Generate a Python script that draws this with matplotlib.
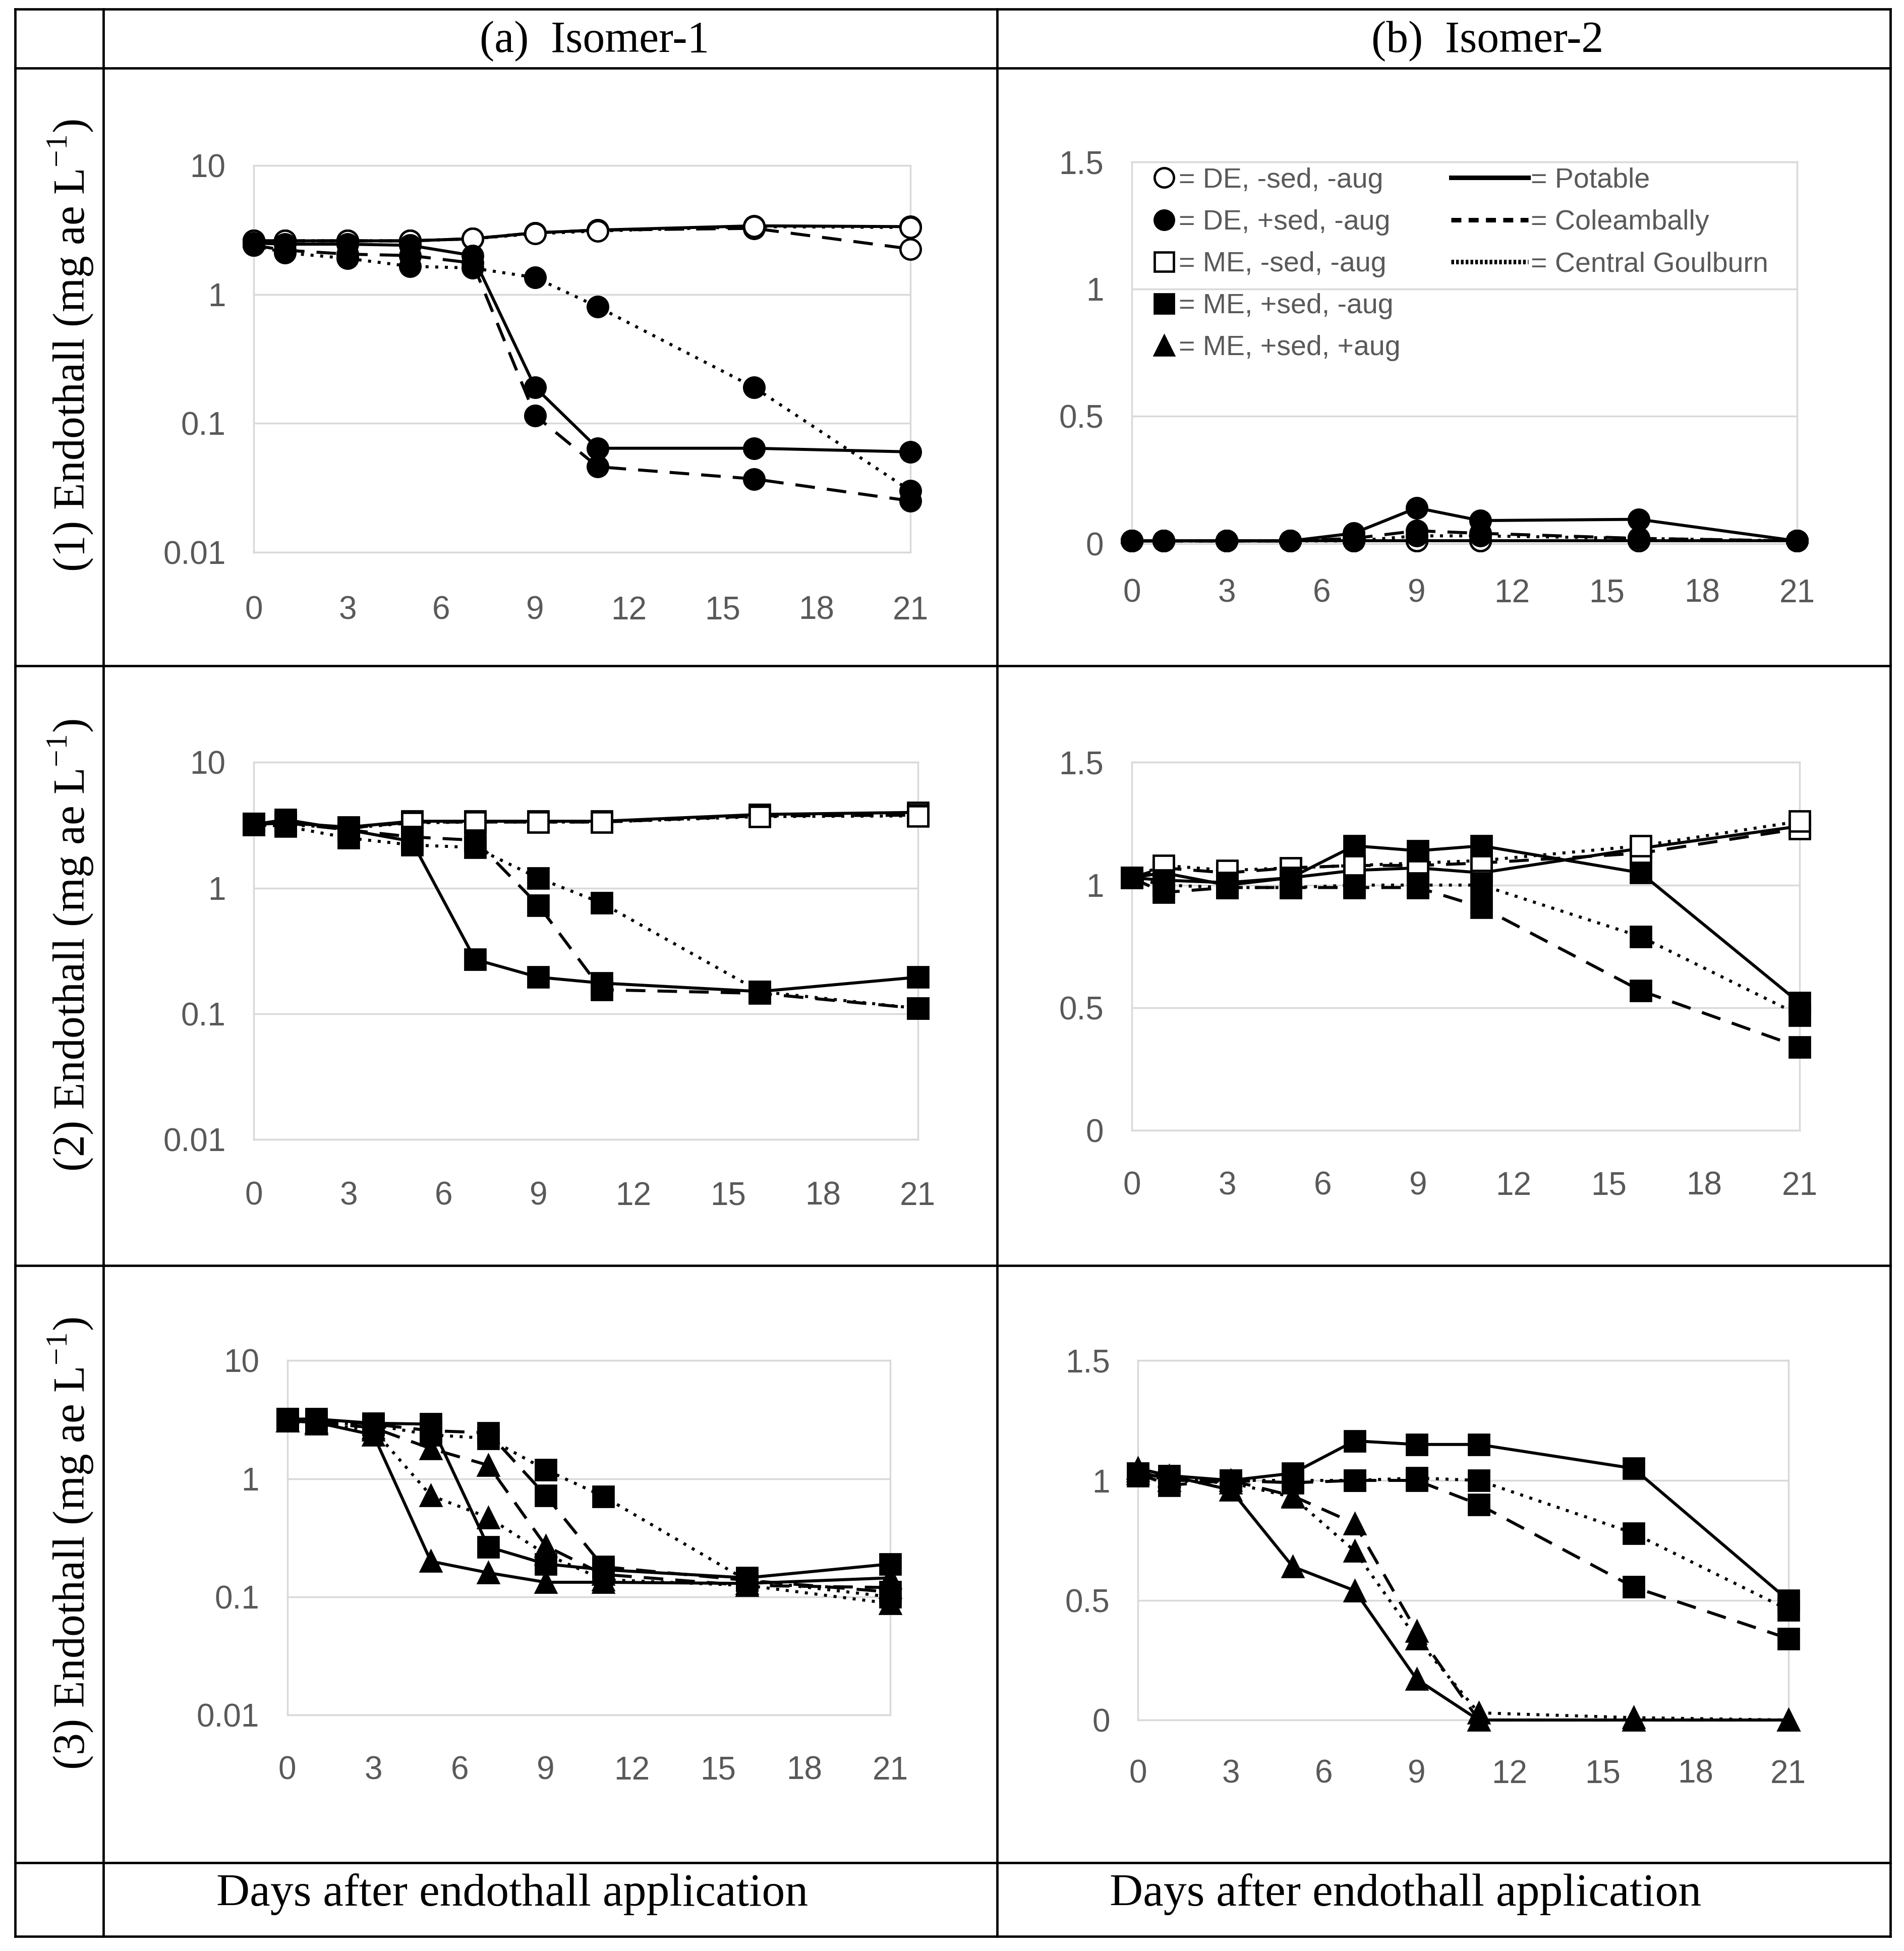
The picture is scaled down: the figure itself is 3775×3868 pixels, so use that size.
import numpy as np
import matplotlib
matplotlib.use("Agg")
import matplotlib.pyplot as plt
from matplotlib.lines import Line2D

W, H = 3775, 3868
S = W / 1531.0          # layout was measured on a 1531 px wide view of the figure

# ---- data ---------------------------------------------------------------
days = [0, 1, 3, 5, 7, 9, 11, 16, 21]
waters = ["Potable", "Coleambally", "Central Goulburn"]
col_titles = ["(a)  Isomer-1", "(b)  Isomer-2"]
row_titles = ["(1) Endothall (mg ae L$^{\\mathregular{-1}}$)",
              "(2) Endothall (mg ae L$^{\\mathregular{-1}}$)",
              "(3) Endothall (mg ae L$^{\\mathregular{-1}}$)"]
x_label = "Days after endothall application"
x_ticks = [0, 3, 6, 9, 12, 15, 18, 21]
log_ticks = [0.01, 0.1, 1, 10]
log_tick_labels = ["0.01", "0.1", "1", "10"]
lin_ticks = [0, 0.5, 1, 1.5]
lin_tick_labels = ["0", "0.5", "1", "1.5"]

# isomer-1, DE (potable, coleambally, central goulburn)
i1_de_nosed_pot = [2.6, 2.6, 2.6, 2.6, 2.7, 3.0, 3.15, 3.4, 3.35]
i1_de_nosed_col = [2.6, 2.6, 2.6, 2.6, 2.7, 3.0, 3.15, 3.25, 2.25]
i1_de_nosed_cg = [2.6, 2.6, 2.6, 2.6, 2.7, 2.95, 3.1, 3.35, 3.3]
i1_de_sed_pot = [2.5, 2.45, 2.45, 2.4, 2.0, 0.19, 0.064, 0.064, 0.06]
i1_de_sed_col = [2.4, 2.2, 2.05, 2.0, 1.75, 0.115, 0.046, 0.037, 0.025]
i1_de_sed_cg = [2.4, 2.1, 1.9, 1.65, 1.6, 1.35, 0.8, 0.19, 0.03]

# isomer-2, DE
i2_de_nosed_pot = [0.01, 0.01, 0.01, 0.01, 0.01, 0.01, 0.01, 0.01, 0.01]
i2_de_nosed_col = [0.01, 0.01, 0.01, 0.01, 0.01, 0.01, 0.01, 0.01, 0.01]
i2_de_nosed_cg = [0.01, 0.01, 0.01, 0.01, 0.01, 0.01, 0.01, 0.01, 0.01]
i2_de_sed_pot = [0.01, 0.01, 0.01, 0.01, 0.04, 0.14, 0.09, 0.095, 0.01]
i2_de_sed_col = [0.01, 0.01, 0.01, 0.01, 0.02, 0.05, 0.04, 0.02, 0.01]
i2_de_sed_cg = [0.01, 0.01, 0.01, 0.01, 0.01, 0.03, 0.03, 0.02, 0.01]

# isomer-1, ME
i1_me_nosed_pot = [3.25, 3.3, 3.05, 3.4, 3.4, 3.4, 3.4, 3.85, 4.0]
i1_me_nosed_col = [3.25, 3.3, 3.0, 3.35, 3.35, 3.35, 3.35, 3.75, 3.8]
i1_me_nosed_cg = [3.25, 3.2, 3.0, 3.3, 3.35, 3.35, 3.35, 3.7, 3.75]
i1_me_sed_pot = [3.2, 3.5, 2.9, 2.35, 0.27, 0.195, 0.175, 0.15, 0.195]
i1_me_sed_col = [3.2, 3.3, 2.9, 2.55, 2.4, 0.73, 0.155, 0.145, 0.11]
i1_me_sed_cg = [3.2, 3.1, 2.5, 2.2, 2.1, 1.2, 0.76, 0.15, 0.11]

# isomer-2, ME
i2_me_nosed_pot = [1.03, 1.05, 1.0, 1.03, 1.06, 1.07, 1.05, 1.15, 1.24]
i2_me_nosed_col = [1.03, 1.07, 1.05, 1.07, 1.08, 1.08, 1.09, 1.13, 1.23]
i2_me_nosed_cg = [1.03, 1.08, 1.06, 1.07, 1.08, 1.09, 1.1, 1.16, 1.26]
i2_me_sed_pot = [1.03, 1.02, 1.01, 1.03, 1.16, 1.14, 1.16, 1.05, 0.52]
i2_me_sed_col = [1.03, 0.97, 0.99, 0.99, 0.99, 0.99, 0.91, 0.57, 0.34]
i2_me_sed_cg = [1.03, 1.0, 0.99, 0.99, 1.0, 1.0, 1.0, 0.79, 0.47]

# isomer-1, ME with sediment, without / with augmentation
i1_me_sed_pot_b = [3.2, 3.2, 2.95, 2.9, 0.265, 0.19, 0.17, 0.145, 0.19]
i1_me_sed_col_b = [3.2, 3.1, 2.9, 2.55, 2.45, 0.72, 0.18, 0.138, 0.11]
i1_me_sed_cg_b = [3.2, 3.0, 2.85, 2.35, 2.2, 1.19, 0.71, 0.138, 0.10]
i1_me_aug_pot = [3.1, 3.0, 2.35, 0.2, 0.16, 0.133, 0.133, 0.13, 0.145]
i1_me_aug_col = [3.1, 3.0, 2.7, 1.8, 1.3, 0.27, 0.155, 0.125, 0.12]
i1_me_aug_cg = [3.1, 2.9, 2.6, 0.72, 0.47, 0.23, 0.14, 0.125, 0.088]

# isomer-2, ME with sediment, without / with augmentation
i2_me_sed_pot_b = [1.02, 1.02, 1.0, 1.03, 1.165, 1.15, 1.15, 1.05, 0.5]
i2_me_sed_col_b = [1.03, 0.98, 1.0, 0.99, 1.0, 1.0, 0.9, 0.555, 0.34]
i2_me_sed_cg_b = [1.03, 1.0, 1.0, 1.0, 1.0, 1.01, 1.0, 0.78, 0.46]
i2_me_aug_pot = [1.05, 1.02, 0.96, 0.64, 0.54, 0.17, 0.0, 0.0, 0.0]
i2_me_aug_col = [1.04, 1.0, 1.0, 0.935, 0.82, 0.37, 0.0, 0.0, 0.0]
i2_me_aug_cg = [1.03, 1.0, 0.99, 0.93, 0.705, 0.34, 0.03, 0.01, 0.0]

treat_labels = ["= DE, -sed, -aug", "= DE, +sed, -aug", "= ME, -sed, -aug",
                "= ME, +sed, -aug", "= ME, +sed, +aug"]
water_labels = ["= Potable", "= Coleambally", "= Central Goulburn"]

# ---- styles -------------------------------------------------------------
MARK = {"de_o": ("o", "white"), "de_f": ("o", "black"), "me_o": ("s", "white"),
        "me_f": ("s", "black"), "me_a": ("^", "black")}
LS = ["-", (0, (6.5, 4)), (0, (1, 2.2))]
GRID = "#d9d9d9"
TICK_C = "#595959"
SANS = ["Liberation Sans Narrow", "Liberation Sans", "DejaVu Sans"]
SERIF = ["Liberation Serif", "DejaVu Serif"]
MS, MEW, LW = 29, 3.4, 4.3

panels = [
    (0, 0, "log", [("de_o", [i1_de_nosed_pot, i1_de_nosed_col, i1_de_nosed_cg]),
                   ("de_f", [i1_de_sed_pot, i1_de_sed_col, i1_de_sed_cg])]),
    (0, 1, "lin", [("de_o", [i2_de_nosed_pot, i2_de_nosed_col, i2_de_nosed_cg]),
                   ("de_f", [i2_de_sed_pot, i2_de_sed_col, i2_de_sed_cg])]),
    (1, 0, "log", [("me_o", [i1_me_nosed_pot, i1_me_nosed_col, i1_me_nosed_cg]),
                   ("me_f", [i1_me_sed_pot, i1_me_sed_col, i1_me_sed_cg])]),
    (1, 1, "lin", [("me_o", [i2_me_nosed_pot, i2_me_nosed_col, i2_me_nosed_cg]),
                   ("me_f", [i2_me_sed_pot, i2_me_sed_col, i2_me_sed_cg])]),
    (2, 0, "log", [("me_f", [i1_me_sed_pot_b, i1_me_sed_col_b, i1_me_sed_cg_b]),
                   ("me_a", [i1_me_aug_pot, i1_me_aug_col, i1_me_aug_cg])]),
    (2, 1, "lin", [("me_f", [i2_me_sed_pot_b, i2_me_sed_col_b, i2_me_sed_cg_b]),
                   ("me_a", [i2_me_aug_pot, i2_me_aug_col, i2_me_aug_cg])]),
]

# plot boxes in the 1531 px view: x of day 0, x of day 21, y of top, y of bottom
boxes = {
    (0, 0): (204, 732, 133, 444), (0, 1): (910, 1445, 130, 437),
    (1, 0): (204, 738, 613, 916), (1, 1): (910, 1447, 613, 909),
    (2, 0): (231, 716, 1094, 1379), (2, 1): (915, 1438, 1094, 1383),
}
xpads = {(0, 0): 62, (0, 1): 50, (1, 0): 60, (1, 1): 58, (2, 0): 58, (2, 1): 56}

fig = plt.figure(figsize=(W / 100, H / 100), dpi=100)


def fx(px):
    return px * S / W


def fy(py):
    return 1 - py * S / H


def draw_panel(ax, kind, groups, xpad):
    for key, series in groups:
        m, fc = MARK[key]
        for vals, ls in zip(series, LS):
            ax.plot(days, vals, ls=ls, color="black", lw=LW, marker=m, ms=MS,
                    mfc=fc, mec="black", mew=MEW, clip_on=False, zorder=3)
    ax.set_xlim(0, 21)
    if kind == "log":
        ax.set_yscale("log")
        ax.set_ylim(0.01, 10)
        ax.set_yticks(log_ticks, log_tick_labels)
    else:
        ax.set_ylim(0, 1.5)
        ax.set_yticks(lin_ticks, lin_tick_labels)
    ax.minorticks_off()
    ax.set_xticks(x_ticks, [str(t) for t in x_ticks])
    ax.tick_params(length=0, labelsize=46, labelcolor=TICK_C)
    ax.tick_params(axis="x", pad=xpad)
    ax.tick_params(axis="y", pad=40)
    for lab in ax.get_xticklabels() + ax.get_yticklabels():
        lab.set_family(SANS)
    ax.grid(axis="y", color=GRID, lw=2.5)
    ax.set_axisbelow(True)
    for sp in ax.spines.values():
        sp.set_color(GRID)
        sp.set_linewidth(2.5)


for r, c, kind, groups in panels:
    x0, x1, yt, yb = boxes[(r, c)]
    ax = fig.add_axes([fx(x0), fy(yb), fx(x1) - fx(x0), fy(yt) - fy(yb)])
    draw_panel(ax, kind, groups, xpads[(r, c)])
    if (r, c) == (0, 1):
        mk = [Line2D([], [], ls="none", marker=MARK[k][0], mfc=MARK[k][1], mec="black",
                     mew=MEW, ms=MS) for k in ["de_o", "de_f", "me_o", "me_f", "me_a"]]
        leg1 = ax.legend(mk, treat_labels, loc="upper left", bbox_to_anchor=(0.032, 0.985),
                         frameon=False, handlelength=0.8, handletextpad=0.12,
                         labelspacing=0.56, borderpad=0, borderaxespad=0, markerscale=0.95,
                         prop={"family": SANS, "size": 40}, labelcolor=TICK_C)
        ax.add_artist(leg1)
        ln = [Line2D([], [], color="black", lw=6.5, ls=s)
              for s in ["-", (0, (2.2, 1.6)), (0, (0.6, 0.45))]]
        ax.legend(ln, water_labels, loc="upper left", bbox_to_anchor=(0.48, 0.985),
                  frameon=False, handlelength=2.75, handletextpad=0.1,
                  labelspacing=0.56, borderpad=0, borderaxespad=0,
                  prop={"family": SANS, "size": 40}, labelcolor=TICK_C)

# ---- table frame and captions ------------------------------------------
xs = [30, 205, 1977, 3748]
ys = [18, 135, 1320, 2509, 3693, 3839]
for y in ys:
    fig.add_artist(Line2D([xs[0] / W, xs[-1] / W], [1 - y / H, 1 - y / H], color="black",
                          lw=3.4, solid_capstyle="projecting"))
for x in xs:
    fig.add_artist(Line2D([x / W, x / W], [1 - ys[0] / H, 1 - ys[-1] / H], color="black",
                          lw=3.4, solid_capstyle="projecting"))

for t, xc in zip(col_titles, [478, 1196]):
    fig.text(fx(xc), fy(33), t, ha="center", va="center", fontsize=63, family=SERIF)
for t, xc in zip([x_label, x_label], [412, 1130]):
    fig.text(fx(xc), fy(1523), t, ha="center", va="center", fontsize=66, family=SERIF)
for t, yc in zip(row_titles, [278, 760, 1241]):
    fig.text(fx(57), fy(yc), t, ha="center", va="center", rotation=90, fontsize=63,
             family=SERIF)

fig.savefig("out.png", dpi=100, facecolor="white")
